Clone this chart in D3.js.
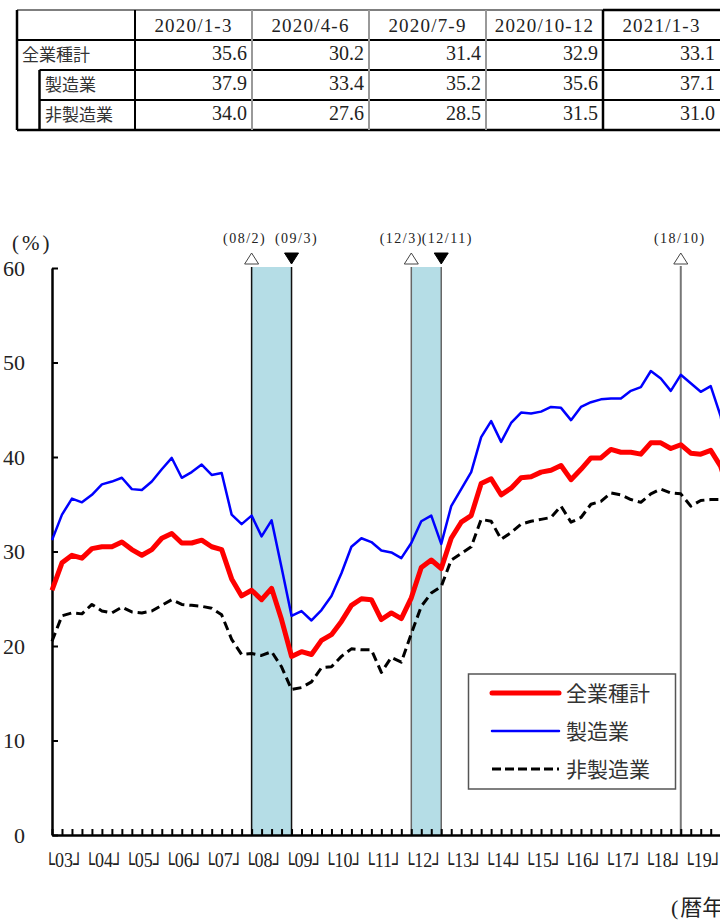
<!DOCTYPE html>
<html lang="ja">
<head>
<meta charset="UTF-8">
<title>DI chart</title>
<style>
  * { margin: 0; padding: 0; box-sizing: border-box; }
  body { background: #fff; width: 720px; height: 921px; overflow: hidden; }
  svg { display: block; }
</style>
</head>
<body>
<svg width="720" height="921"></svg>
<script src="https://cdn.jsdelivr.net/npm/d3@7/dist/d3.min.js"></script>
<script>
// quarterly series, 2003 Q1 onward (last five quarters = table values)
const startYear = 2003;
const allIndustries = [
  25.9, 28.8, 29.6, 29.3, 30.3, 30.5, 30.5, 31.0, 30.2, 29.6, 30.2, 31.4, 31.9, 30.9, 30.9, 31.2,
  30.5, 30.2, 27.1, 25.3, 25.9, 24.9, 26.1, 22.8, 18.9, 19.4, 19.1, 20.6, 21.2, 22.6, 24.3, 25.0,
  24.9, 22.8, 23.5, 22.9, 25.1, 28.3, 29.1, 28.2, 31.4, 33.1, 33.8, 37.2, 37.7, 36.0, 36.7, 37.8,
  37.9, 38.4, 38.6, 39.1, 37.6, 38.7, 39.9, 39.9, 40.8, 40.5, 40.5, 40.3, 41.5, 41.5, 40.9, 41.3,
  40.4, 40.3, 40.7, 39.0, 35.6, 30.2, 31.4, 32.9, 33.1
];
const manufacturing = [
  31.2, 33.9, 35.6, 35.2, 36.0, 37.1, 37.4, 37.8, 36.6, 36.5, 37.4, 38.7, 39.9, 37.8, 38.4, 39.2,
  38.1, 38.3, 33.9, 32.9, 33.8, 31.6, 33.3, 28.3, 23.2, 23.7, 22.7, 23.8, 25.3, 27.7, 30.5, 31.4,
  31.0, 30.1, 29.9, 29.3, 30.9, 33.2, 33.8, 30.8, 34.8, 36.6, 38.4, 42.1, 43.8, 41.6, 43.6, 44.7,
  44.6, 44.8, 45.3, 45.2, 43.9, 45.3, 45.8, 46.1, 46.2, 46.2, 47.0, 47.4, 49.1, 48.3, 47.0, 48.7,
  47.8, 46.9, 47.5, 44.3, 37.9, 33.4, 35.2, 35.6, 37.1
];
const nonManufacturing = [
  20.5, 23.2, 23.5, 23.4, 24.4, 23.7, 23.5, 24.1, 23.6, 23.5, 23.7, 24.3, 24.9, 24.4, 24.3, 24.2,
  24.0, 23.3, 20.7, 19.1, 19.2, 19.0, 19.4, 17.8, 15.4, 15.6, 16.2, 17.7, 17.8, 18.9, 19.7, 19.6,
  19.6, 17.2, 18.8, 18.3, 21.3, 24.2, 25.6, 26.3, 29.1, 29.8, 30.5, 33.4, 33.2, 31.3, 32.0, 32.9,
  33.2, 33.4, 33.6, 34.8, 33.1, 33.6, 35.0, 35.3, 36.2, 36.0, 35.5, 35.2, 36.1, 36.6, 36.2, 36.1,
  34.8, 35.4, 35.5, 35.5, 34.0, 27.6, 28.5, 31.5, 31.0
];
const yearLabels = ['03','04','05','06','07','08','09','10','11','12','13','14','15','16','17','18','19'];
const yTicks = [0, 10, 20, 30, 40, 50, 60];

// business-cycle peaks / troughs (year + quarter fraction)
const recessions = [{ from: 2008.0, to: 2009.0 }, { from: 2012.0, to: 2012.75 }];
const markers = [
  { t: 2008.0, label: '(08/2)', kind: 'peak' },
  { t: 2009.0, label: '(09/3)', kind: 'trough' },
  { t: 2012.0, label: '(12/3)', kind: 'peak' },
  { t: 2012.75, label: '(12/11)', kind: 'trough' },
  { t: 2018.75, label: '(18/10)', kind: 'peak' }
];

// table
const tableCols = ['2020/1-3', '2020/4-6', '2020/7-9', '2020/10-12', '2021/1-3'];
const tableRowNames = ['全業種計', '製造業', '非製造業'];
const tableAll = ['35.6', '30.2', '31.4', '32.9', '33.1'];
const tableMfg = ['37.9', '33.4', '35.2', '35.6', '37.1'];
const tableNon = ['34.0', '27.6', '28.5', '31.5', '31.0'];

const SERIF = "'Liberation Serif', 'DejaVu Serif', serif";
const GOTHIC = "'Noto Sans CJK JP', 'Noto Sans', sans-serif";
const BOX = "'DejaVu Sans', 'DejaVu Sans Mono', sans-serif";

const svg = d3.select('svg');

// ---------- table ----------
const tbl = svg.append('g');
const colX = d3.scaleBand().domain(tableCols).range([135, 135 + 117 * 5]);
const rowY = d3.scaleBand().domain(['head', ...tableRowNames]).range([10, 130]);
const tLeft = 17, tSub = 39.5, tRight = 725;
const tTop = rowY('head'), tBottom = rowY.range()[1];
const lastX = colX(tableCols[4]);

function hline(x1, x2, yy, color, w) {
  tbl.append('line').attr('x1', x1).attr('x2', x2).attr('y1', yy).attr('y2', yy)
    .attr('stroke', color).attr('stroke-width', w);
}
function vline(xx, y1, y2, color, w) {
  tbl.append('line').attr('x1', xx).attr('x2', xx).attr('y1', y1).attr('y2', y2)
    .attr('stroke', color).attr('stroke-width', w);
}

hline(tLeft, lastX, tTop, '#555', 1.5);
hline(lastX, tRight, tTop, '#000', 2.5);
hline(tLeft, tRight, rowY(tableRowNames[0]), '#000', 2);
hline(tSub, tRight, rowY(tableRowNames[1]), '#000', 2);
hline(tSub, tRight, rowY(tableRowNames[2]), '#000', 2);
hline(tLeft, tRight, tBottom, '#000', 2.5);
vline(tLeft, tTop, tBottom, '#000', 2.5);
vline(tSub, rowY(tableRowNames[1]), tBottom, '#000', 2.5);
vline(colX(tableCols[0]), tTop, tBottom, '#000', 2);
tableCols.slice(1, 4).forEach(c => vline(colX(c), tTop, tBottom, '#999', 2));
vline(lastX, tTop, tBottom, '#000', 2.5);

tbl.selectAll('text.head').data(tableCols).enter().append('text')
  .attr('x', d => colX(d) + colX.bandwidth() / 2)
  .attr('y', rowY('head') + 22)
  .attr('text-anchor', 'middle')
  .attr('font-family', SERIF).attr('font-size', 19).attr('letter-spacing', 1.2)
  .attr('fill', '#222')
  .text(d => d);

const rowsData = [tableAll, tableMfg, tableNon];
tableRowNames.forEach((name, r) => {
  tbl.append('text')
    .attr('x', r === 0 ? 22 : 45)
    .attr('y', rowY(name) + 21)
    .attr('font-family', GOTHIC).attr('font-size', 17).attr('fill', '#333')
    .text(name);
  tbl.selectAll(null).data(rowsData[r]).enter().append('text')
    .attr('x', (d, i) => colX(tableCols[i]) + colX.bandwidth() - 5)
    .attr('y', rowY(name) + 20)
    .attr('text-anchor', 'end')
    .attr('font-family', SERIF).attr('font-size', 20).attr('fill', '#222')
    .text(d => d);
});

// ---------- chart ----------
const x = d3.scaleLinear().domain([2003, 2019.75]).range([52, 720.7]);
const y = d3.scaleLinear().domain([0, 60]).range([835, 268]);
const tOf = i => startYear + i / 4;

const chart = svg.append('g');

// recession shading
const edgeColors = ['#111', '#666'];
recessions.forEach((r, k) => {
  chart.append('rect')
    .attr('x', x(r.from)).attr('y', y(60) - 1)
    .attr('width', x(r.to) - x(r.from)).attr('height', y(0) - y(60) + 1)
    .attr('fill', '#b5dde6');
  [r.from, r.to].forEach(t => {
    chart.append('line')
      .attr('x1', x(t)).attr('x2', x(t)).attr('y1', y(60) - 1).attr('y2', y(0))
      .attr('stroke', edgeColors[k]).attr('stroke-width', 1.5);
  });
});

// latest peak line (no trough yet)
const lastPeak = markers[markers.length - 1];
chart.append('line')
  .attr('x1', x(lastPeak.t)).attr('x2', x(lastPeak.t))
  .attr('y1', y(60) - 2).attr('y2', y(0))
  .attr('stroke', '#777').attr('stroke-width', 2);

// markers and labels
const labelShift = [-7, 5, -10, 6, -1];
markers.forEach((m, k) => {
  const cx = x(m.t);
  const top = y(60) - 15, bot = y(60) - 4;
  const p = m.kind === 'peak'
    ? `M${cx - 7},${bot}L${cx + 7},${bot}L${cx},${top}Z`
    : `M${cx - 7},${top}L${cx + 7},${top}L${cx},${bot}Z`;
  chart.append('path').attr('d', p)
    .attr('fill', m.kind === 'peak' ? '#fff' : '#000')
    .attr('stroke', m.kind === 'peak' ? '#444' : '#000').attr('stroke-width', 1);
  chart.append('text')
    .attr('x', cx + labelShift[k]).attr('y', 243)
    .attr('text-anchor', 'middle')
    .attr('font-family', SERIF).attr('font-size', 14).attr('letter-spacing', 1.5)
    .attr('fill', '#222')
    .text(m.label);
});

// axes
chart.append('g').attr('transform', `translate(0,${y(0)})`)
  .call(d3.axisBottom(x)
    .tickValues(d3.range(0, allIndustries.length).map(tOf))
    .tickSizeInner(-6).tickSizeOuter(0).tickFormat(''))
  .call(g => g.select('.domain').attr('stroke-width', 2.5))
  .call(g => g.selectAll('.tick line').attr('stroke-width', 2));

chart.append('g').attr('transform', `translate(${x(startYear)},0)`)
  .call(d3.axisLeft(y).tickValues(yTicks).tickSizeInner(-6).tickSizeOuter(0).tickPadding(27))
  .call(g => g.select('.domain').attr('stroke-width', 2.5))
  .call(g => g.selectAll('.tick line').attr('stroke-width', 2))
  .call(g => g.selectAll('.tick text')
    .attr('font-family', SERIF).attr('font-size', 22).attr('fill', '#222'));

chart.append('text')
  .attr('x', 12).attr('y', 250)
  .attr('font-family', SERIF).attr('font-size', 21).attr('letter-spacing', 3).attr('fill', '#222')
  .text('(%)');

// year labels: └YY┘ spanning each year, squeezed horizontally to fit 1 year
yearLabels.forEach((lab, k) => {
  const yr = startYear + k;
  const t = chart.append('text')
    .attr('transform', `translate(${x(yr + 0.375) - 3},867) scale(0.82,1)`)
    .attr('text-anchor', 'middle').attr('fill', '#222');
  t.append('tspan').attr('font-family', BOX).attr('font-size', 20)
    .attr('dy', 4).text('└');
  t.append('tspan').attr('font-family', SERIF).attr('font-size', 22)
    .attr('dy', -4).text(lab);
  t.append('tspan').attr('font-family', BOX).attr('font-size', 20)
    .attr('dy', 4).text('┘');
});

const unit = chart.append('text').attr('x', 671).attr('y', 915).attr('fill', '#222');
unit.append('tspan').attr('font-family', SERIF).attr('font-size', 22).text('(');
unit.append('tspan').attr('font-family', GOTHIC).attr('font-size', 22).attr('dx', 2).text('暦年)');

// series lines
const series = [
  { name: '非製造業', values: nonManufacturing, color: '#000', width: 3, dash: '9,5' },
  { name: '製造業', values: manufacturing, color: '#0000ff', width: 2.5, dash: null },
  { name: '全業種計', values: allIndustries, color: '#ff0000', width: 5, dash: null }
];
const line = d3.line().x((d, i) => x(tOf(i))).y(d => y(d));
series.forEach(s => {
  chart.append('path')
    .attr('d', line(s.values))
    .attr('fill', 'none')
    .attr('stroke', s.color)
    .attr('stroke-width', s.width)
    .attr('stroke-linejoin', 'round')
    .attr('stroke-dasharray', s.dash);
});

// legend
const lg = chart.append('g');
lg.append('rect').attr('x', 468.5).attr('y', 674).attr('width', 207).attr('height', 115)
  .attr('fill', '#fff').attr('stroke', '#555').attr('stroke-width', 1.5);
const legendOrder = [series[2], series[1], series[0]];
legendOrder.forEach((s, k) => {
  const ly = 693 + k * 38;
  lg.append('line').attr('x1', 492).attr('x2', 559).attr('y1', ly).attr('y2', ly)
    .attr('stroke', s.color).attr('stroke-width', s.width)
    .attr('stroke-linecap', s.dash ? 'butt' : 'round')
    .attr('stroke-dasharray', s.dash ? '9,4' : null);
  lg.append('text').attr('x', 566).attr('y', ly + 8)
    .attr('font-family', GOTHIC).attr('font-size', 21).attr('fill', '#333')
    .text(s.name);
});
</script>
</body>
</html>
